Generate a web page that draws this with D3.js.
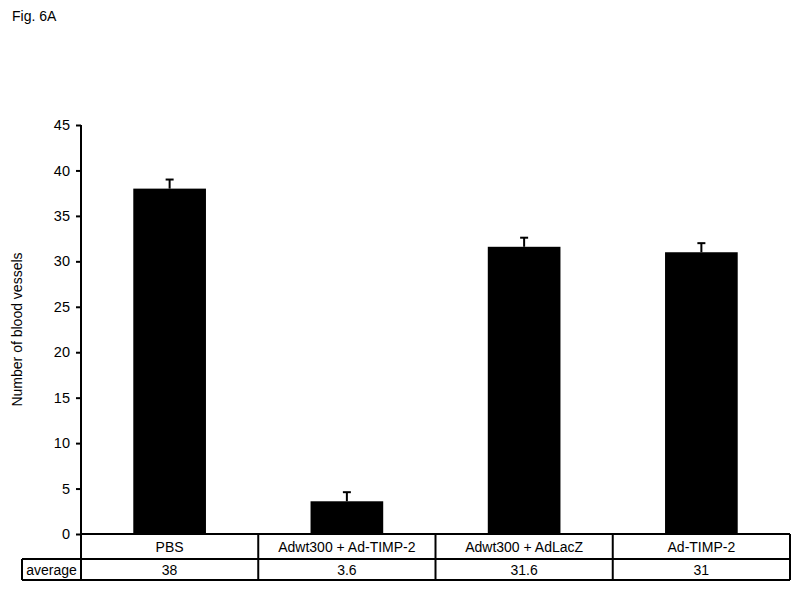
<!DOCTYPE html>
<html>
<head>
<meta charset="utf-8">
<script src="https://cdn.jsdelivr.net/npm/d3@7"></script>
<style>
  body { margin: 0; background: #fff; }
  text { font-family: "Liberation Sans", Arial, sans-serif; fill: #000; }
</style>
</head>
<body>
<div id="chart"></div>
<script>
// Chart data
var categories = ["PBS", "Adwt300 + Ad-TIMP-2", "Adwt300 + AdLacZ", "Ad-TIMP-2"];
var averages = [38, 3.6, 31.6, 31];
var errors = [1.0, 1.0, 1.0, 1.0];
var averageLabels = ["38", "3.6", "31.6", "31"];
var yTicks = [0, 5, 10, 15, 20, 25, 30, 35, 40, 45];

var width = 800, height = 589;
var margin = { left: 81, right: 10, top: 125, plotBottom: 534 };

var svg = d3.select("#chart").append("svg")
    .attr("width", width)
    .attr("height", height);

// Title
svg.append("text")
    .attr("x", 12)
    .attr("y", 21)
    .style("font-size", "14px")
    .text("Fig. 6A");

var x = d3.scaleBand()
    .domain(categories)
    .range([81, 790])
    .paddingInner(0)
    .paddingOuter(0);

var y = d3.scaleLinear()
    .domain([0, 45])
    .range([margin.plotBottom, margin.top]);

// Y axis
var yAxis = svg.append("g")
    .attr("transform", "translate(" + margin.left + ",0)")
    .call(d3.axisLeft(y).tickValues(yTicks).tickSize(5).tickPadding(6).tickFormat(d3.format("d")));

yAxis.select(".domain").remove();
yAxis.selectAll(".tick line").attr("stroke", "#000").attr("stroke-width", 2);
yAxis.selectAll(".tick text").style("font-size", "14.5px");

svg.append("text")
    .attr("transform", "translate(22," + ((margin.top + margin.plotBottom) / 2) + ") rotate(-90)")
    .attr("text-anchor", "middle")
    .style("font-size", "14px")
    .text("Number of blood vessels");

// Bars
var barW = x.bandwidth() * 0.41;

svg.append("g").selectAll("rect")
    .data(averages)
    .enter().append("rect")
    .attr("x", function(d, i) { return x(categories[i]) + (x.bandwidth() - barW) / 2; })
    .attr("y", function(d) { return y(d); })
    .attr("width", barW)
    .attr("height", function(d) { return y(0) - y(d); })
    .attr("fill", "#000");

// Error bars (upper only)
var err = svg.append("g").selectAll("g")
    .data(averages)
    .enter().append("g");

err.append("line")
    .attr("x1", function(d, i) { return x(categories[i]) + x.bandwidth() / 2; })
    .attr("x2", function(d, i) { return x(categories[i]) + x.bandwidth() / 2; })
    .attr("y1", function(d) { return y(d); })
    .attr("y2", function(d, i) { return y(d + errors[i]); })
    .attr("stroke", "#000")
    .attr("stroke-width", 2);

err.append("line")
    .attr("x1", function(d, i) { return x(categories[i]) + x.bandwidth() / 2 - 4; })
    .attr("x2", function(d, i) { return x(categories[i]) + x.bandwidth() / 2 + 4; })
    .attr("y1", function(d, i) { return y(d + errors[i]); })
    .attr("y2", function(d, i) { return y(d + errors[i]); })
    .attr("stroke", "#000")
    .attr("stroke-width", 2);

// Data table
var row1Top = margin.plotBottom, row2Top = 559, tableBottom = 580, labelLeft = 22;
var table = svg.append("g")
    .attr("stroke", "#000")
    .attr("stroke-width", 2);

// Y axis line runs down through the table
table.append("line")
    .attr("x1", margin.left).attr("x2", margin.left)
    .attr("y1", margin.top).attr("y2", tableBottom);

table.append("line")
    .attr("x1", margin.left).attr("x2", x.range()[1])
    .attr("y1", row1Top).attr("y2", row1Top);

table.append("line")
    .attr("x1", labelLeft).attr("x2", x.range()[1])
    .attr("y1", row2Top).attr("y2", row2Top);

table.append("line")
    .attr("x1", labelLeft).attr("x2", x.range()[1])
    .attr("y1", tableBottom).attr("y2", tableBottom);

table.append("line")
    .attr("x1", labelLeft).attr("x2", labelLeft)
    .attr("y1", row2Top).attr("y2", tableBottom);

table.selectAll(".divider")
    .data(categories)
    .enter().append("line")
    .attr("class", "divider")
    .attr("x1", function(d) { return x(d) + x.bandwidth(); })
    .attr("x2", function(d) { return x(d) + x.bandwidth(); })
    .attr("y1", row1Top)
    .attr("y2", tableBottom);

svg.append("g").selectAll("text")
    .data(categories)
    .enter().append("text")
    .attr("x", function(d) { return x(d) + x.bandwidth() / 2; })
    .attr("y", 552)
    .attr("text-anchor", "middle")
    .style("font-size", "14px")
    .text(function(d) { return d; });

svg.append("g").selectAll("text")
    .data(averageLabels)
    .enter().append("text")
    .attr("x", function(d, i) { return x(categories[i]) + x.bandwidth() / 2; })
    .attr("y", 575)
    .attr("text-anchor", "middle")
    .style("font-size", "14px")
    .text(function(d) { return d; });

svg.append("text")
    .attr("x", (labelLeft + margin.left) / 2)
    .attr("y", 575)
    .attr("text-anchor", "middle")
    .style("font-size", "14px")
    .text("average");
</script>
</body>
</html>
